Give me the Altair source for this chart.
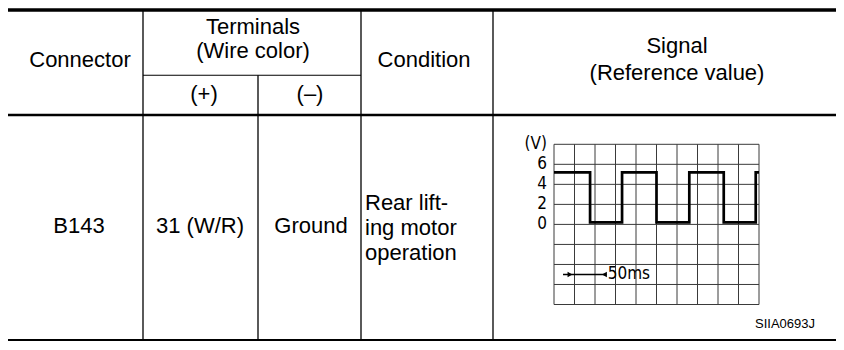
import altair as alt
import pandas as pd

# ---------------- data ----------------
header_single = ["Connector", "Condition"]
header_terminals = "Terminals\n(Wire color)"
header_signal = "Signal\n(Reference value)"
sub_headers = ["(+)", "(–)"]

row_connector = ["B143"]
row_plus = ["31 (W/R)"]
row_minus = ["Ground"]
row_condition = ["Rear lift-\ning motor\noperation"]

# oscilloscope trace (time in ms, voltage in V) - step waveform
edge_ms = [0, 44, 83, 125, 165, 207, 246, 250]
level_v = [5.2, 0.2, 5.2, 0.2, 5.2, 0.2, 5.2, 5.2]
grid_ms = [0, 25, 50, 75, 100, 125, 150, 175, 200, 225, 250]
grid_v = [-8, -6, -4, -2, 0, 2, 4, 6, 8]
ytick_v = [8, 6, 4, 2, 0]
ytick_labels = ["(V)", "6", "4", "2", "0"]
scalebar_ms = [11, 64]
scalebar_v = -5
scalebar_label = "50ms"
figure_code = "SIIA0693J"

# ---------------- layout helpers ----------------
W, H = 828, 334


def X(r):
    return r - 8


def Y(r):
    return 2 + (r - 5) * 0.9593


FONT = "Liberation Sans, Arial, Helvetica, sans-serif"
NARROW = "Liberation Sans Narrow, DejaVu Sans Condensed, Roboto Condensed, sans-serif"
FS = 22

# table rules
rules_df = pd.DataFrame([
    dict(x=0, x2=W, y=Y(5), y2=Y(5), w=3.5),
    dict(x=X(143), x2=X(361), y=Y(73), y2=Y(73), w=1.2),
    dict(x=0, x2=W, y=Y(114.5), y2=Y(114.5), w=2.5),
    dict(x=0, x2=W, y=Y(349), y2=Y(349), w=1.8),
    dict(x=X(143), x2=X(143), y=Y(5), y2=Y(349), w=1.3),
    dict(x=X(258), x2=X(258), y=Y(73), y2=Y(349), w=1.3),
    dict(x=X(361), x2=X(361), y=Y(5), y2=Y(349), w=1.3),
    dict(x=X(493), x2=X(493), y=Y(5), y2=Y(349), w=1.3),
])

rules = alt.Chart(rules_df).mark_rule(color="black").encode(
    x=alt.X("x:Q", scale=None),
    x2="x2:Q",
    y=alt.Y("y:Q", scale=None),
    y2="y2:Q",
    strokeWidth=alt.StrokeWidth("w:Q", scale=None, legend=None),
)


def text_layer(rows, align="center", line_height=24):
    return alt.Chart(pd.DataFrame(rows)).mark_text(
        font=FONT, fontSize=FS, align=align, baseline="middle",
        lineBreak="\n", lineHeight=line_height, color="black",
    ).encode(
        x=alt.X("x:Q", scale=None), y=alt.Y("y:Q", scale=None), text="text:N"
    )


single_text = text_layer([
    dict(text=header_single[0], x=X(80), y=Y(57)),
    dict(text=header_single[1], x=X(424), y=Y(57)),
    dict(text=sub_headers[0], x=X(204), y=Y(93)),
    dict(text=sub_headers[1], x=X(310), y=Y(93)),
    dict(text=row_connector[0], x=X(79), y=Y(230)),
    dict(text=row_plus[0], x=X(200), y=Y(230)),
    dict(text=row_minus[0], x=X(311), y=Y(230)),
])
terminals_text = text_layer([dict(text=header_terminals, x=X(253), y=Y(23))], line_height=24)
signal_text = text_layer([dict(text=header_signal, x=X(677), y=Y(43))], line_height=27)
condition_text = text_layer(
    [dict(text=row_condition[0], x=X(365), y=Y(206))], align="left", line_height=25
)

# oscilloscope scales
xs = alt.Scale(domain=[0, 250], range=[X(554), X(759)], nice=False, zero=False)
ys = alt.Scale(domain=[-8, 8], range=[Y(312), Y(145)], nice=False, zero=False)

vgrid = alt.Chart(pd.DataFrame({"t": grid_ms, "lo": -8, "hi": 8})).mark_rule(
    color="#3a3a3a", strokeWidth=1
).encode(
    x=alt.X("t:Q", scale=xs, axis=None),
    y=alt.Y("lo:Q", scale=ys, axis=None),
    y2="hi:Q",
)
hgrid = alt.Chart(pd.DataFrame({"v": grid_v, "lo": 0, "hi": 250})).mark_rule(
    color="#3a3a3a", strokeWidth=1
).encode(
    y=alt.Y("v:Q", scale=ys, axis=None),
    x=alt.X("lo:Q", scale=xs, axis=None),
    x2="hi:Q",
)

trace = alt.Chart(pd.DataFrame({"t": edge_ms, "v": level_v})).mark_line(
    interpolate="step-after", color="black", strokeWidth=2.7
).encode(
    x=alt.X("t:Q", scale=xs, axis=None),
    y=alt.Y("v:Q", scale=ys, axis=None),
)

ylabels = alt.Chart(pd.DataFrame({"v": ytick_v, "label": ytick_labels})).mark_text(
    font=NARROW, fontSize=17, align="right", baseline="middle", color="black"
).encode(
    x=alt.value(X(547)),
    y=alt.Y("v:Q", scale=ys, axis=None),
    text="label:N",
)

bar = alt.Chart(pd.DataFrame({"t": [scalebar_ms[0]], "t2": [scalebar_ms[1]], "v": [scalebar_v]})).mark_rule(
    color="black", strokeWidth=1.6
).encode(
    x=alt.X("t:Q", scale=xs, axis=None),
    x2="t2:Q",
    y=alt.Y("v:Q", scale=ys, axis=None),
)
heads_df = pd.DataFrame({
    "t": [19.5, 61.5],
    "v": [scalebar_v, scalebar_v],
    "shape": ["triangle-right", "triangle-left"],
})
heads = alt.Chart(heads_df).mark_point(filled=True, color="black", size=32, opacity=1).encode(
    x=alt.X("t:Q", scale=xs, axis=None),
    y=alt.Y("v:Q", scale=ys, axis=None),
    shape=alt.Shape("shape:N", scale=None, legend=None),
)
bar_label = alt.Chart(pd.DataFrame({"t": [65.5], "v": [scalebar_v], "label": [scalebar_label]})).mark_text(
    font=NARROW, fontSize=17, align="left", baseline="middle", color="black"
).encode(
    x=alt.X("t:Q", scale=xs, axis=None),
    y=alt.Y("v:Q", scale=ys, axis=None),
    text="label:N",
)

code = alt.Chart(pd.DataFrame({"label": [figure_code]})).mark_text(
    font=FONT, fontSize=13, align="right", baseline="middle", color="black"
).encode(
    x=alt.value(X(815)),
    y=alt.value(Y(332)),
    text="label:N",
)

chart = alt.layer(
    vgrid, hgrid, trace, ylabels, bar, heads, bar_label, code,
    rules, single_text, terminals_text, signal_text, condition_text,
).resolve_scale(
    x="independent", y="independent"
).properties(
    width=W, height=H,
    autosize=alt.AutoSizeParams(type="none"),
    padding=0,
    background="white",
).configure_view(stroke=None)

chart.save("out.html", embed_options={"renderer": "svg", "actions": False})
